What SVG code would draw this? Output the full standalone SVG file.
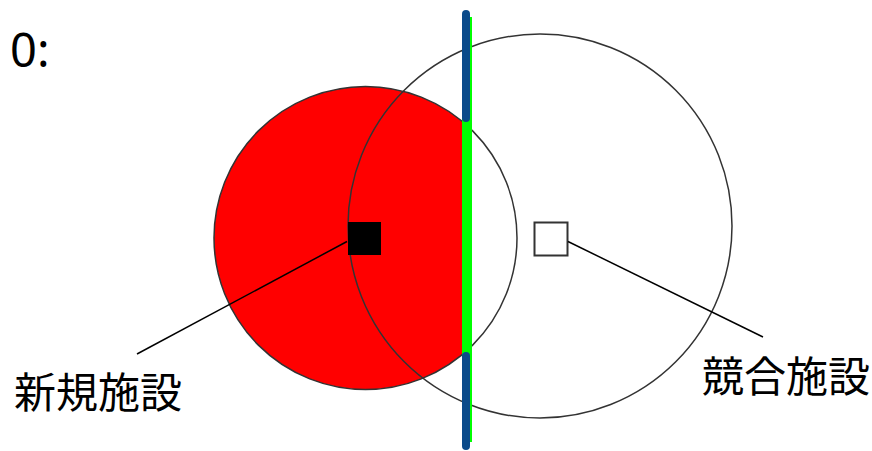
<svg xmlns="http://www.w3.org/2000/svg" width="872" height="451" viewBox="0 0 872 451">
<style>
.lbl{font-family:"Noto Sans CJK JP","Noto Sans",sans-serif;font-size:42px;fill:#000}
.num{font-family:"Noto Sans",sans-serif;font-size:47px;fill:#000}
.ring{fill:none;stroke:#333;stroke-width:1.5}
.conn{stroke:#000;stroke-width:1.5;fill:none}
</style>
<defs>
<clipPath id="leftside"><rect x="0" y="0" width="466" height="451"/></clipPath>
</defs>
<rect width="872" height="451" fill="#fff"/>
<text class="num" x="10" y="67">0:</text>
<g id="new-area">
<circle cx="365.5" cy="238" r="151.5" fill="#ff0000" clip-path="url(#leftside)"/>
<circle class="ring" cx="365.5" cy="238" r="151.5"/>
</g>
<g id="competitor-area">
<circle class="ring" cx="540" cy="226" r="192"/>
</g>
<g id="boundary">
<rect x="462" y="17" width="10" height="425" fill="#00ff00"/>
<line x1="466" y1="14" x2="466" y2="118" stroke="#0a4a8a" stroke-width="8" stroke-linecap="round"/>
<line x1="466" y1="356" x2="466" y2="446" stroke="#0a4a8a" stroke-width="8" stroke-linecap="round"/>
</g>
<g id="new-facility">
<rect x="348" y="222" width="33" height="33" fill="#000"/>
<text class="lbl" x="14" y="408">新規施設</text>
</g>
<g id="competitor-facility">
<rect x="534.5" y="222.5" width="33" height="33" fill="#fff" stroke="#333" stroke-width="2"/>
<text class="lbl" x="702" y="392">競合施設</text>
</g>
<g id="connectors">
<line class="conn" x1="347" y1="241.5" x2="137" y2="354"/>
<line class="conn" x1="568" y1="241.5" x2="763" y2="337"/>
</g>
</svg>
